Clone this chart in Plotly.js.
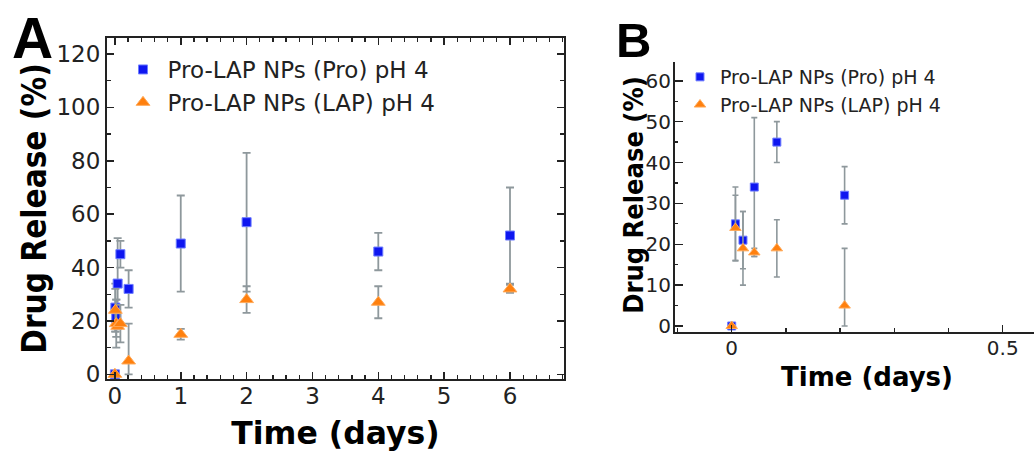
<!DOCTYPE html>
<html><head><meta charset="utf-8">
<script src="https://cdn.plot.ly/plotly-3.0.1.min.js"></script>
<style>html,body{margin:0;padding:0;background:#fff}#chart{width:1034px;height:451px}</style>
</head><body><div id="chart"></div>
<script>
const timeDays   = [0, 0.0069, 0.0208, 0.0417, 0.0833, 0.2083, 1, 2, 4, 6];
const proRelease = [0, 25, 21, 34, 45, 32, 49, 57, 46, 52];
const proErr     = [0, 9, 7, 17, 5, 7, 18, 26, 7, 18];
const lapRelease = [0, 24, 19, 18, 19, 5, 15, 28, 27, 32];
const lapErr     = [0, 8, 9, 1, 7, 14, 2, 5, 6, 1.5];
const lapErrMinus= [0, 8, 9, 1, 7, 5, 2, 5, 6, 1.5];
const seriesNames = ['Pro-LAP NPs (Pro) pH 4', 'Pro-LAP NPs (LAP) pH 4'];
const xTitle = 'Time (days)', yTitle = 'Drug Release (%)';

const W = 1034, H = 451;
const fx = p => p / W, fy = p => 1 - p / H;
const INK = '#222';
const BLUE = 'rgb(14,22,240)', ORANGE = 'rgb(255,128,14)';
const ERR = '#8e989c';
const SANS = 'DejaVu Sans, Verdana, sans-serif';
const COND = 'DejaVu Sans Condensed, DejaVu Sans, sans-serif';
const tickFont = s => ({family: SANS, size: s, color: INK});
const titleFont = (s, fam) => ({family: fam || SANS, size: s, color: '#000', weight: 'bold'});

function tracesA() {
  return [
    {x: timeDays, y: proRelease, type: 'scatter', mode: 'markers', name: seriesNames[0],
     xaxis: 'x', yaxis: 'y', legend: 'legend', cliponaxis: false,
     marker: {symbol: 'square', size: 9, color: BLUE, line: {color: 'rgb(110,125,255)', width: 1}},
     error_y: {type: 'data', array: proErr, visible: true, color: ERR, thickness: 1.8, width: 4}},
    {x: timeDays, y: lapRelease, type: 'scatter', mode: 'markers', name: seriesNames[1],
     xaxis: 'x', yaxis: 'y', legend: 'legend', cliponaxis: false,
     marker: {symbol: 'triangle-up', size: 12, color: ORANGE, line: {color: 'rgb(255,170,90)', width: 1}},
     error_y: {type: 'data', array: lapErr, arrayminus: lapErrMinus, symmetric: false, visible: true, color: ERR, thickness: 1.8, width: 4}}
  ];
}
// Panel B zooms on the first six time points
function tracesB() {
  const n = 6;
  return [
    {x: timeDays.slice(0, n), y: proRelease.slice(0, n), type: 'scatter', mode: 'markers', name: seriesNames[0],
     xaxis: 'x2', yaxis: 'y2', legend: 'legend2', cliponaxis: false,
     marker: {symbol: 'square', size: 8, color: BLUE, line: {color: 'rgb(110,125,255)', width: 1}},
     error_y: {type: 'data', array: proErr.slice(0, n), visible: true, color: ERR, thickness: 1.6, width: 3}},
    {x: timeDays.slice(0, n), y: lapRelease.slice(0, n), type: 'scatter', mode: 'markers', name: seriesNames[1],
     xaxis: 'x2', yaxis: 'y2', legend: 'legend2', cliponaxis: false,
     marker: {symbol: 'triangle-up', size: 10, color: ORANGE, line: {color: 'rgb(255,170,90)', width: 1}},
     error_y: {type: 'data', array: lapErr.slice(0, n), arrayminus: lapErrMinus.slice(0, n), symmetric: false, visible: true, color: ERR, thickness: 1.6, width: 3}}
  ];
}
const data = [...tracesA(), ...tracesB()];
const layout = {
  width: W, height: H, margin: {l: 0, r: 0, t: 0, b: 0},
  paper_bgcolor: '#fff', plot_bgcolor: '#fff', showlegend: true,
  xaxis: {
    domain: [fx(107), fx(564)], anchor: 'y', range: [-0.12, 6.82],
    tickmode: 'linear', tick0: 0, dtick: 1, ticks: 'inside', ticklen: 7, tickwidth: 1.5, tickcolor: INK,
    showline: true, linewidth: 2, linecolor: INK, mirror: 'ticks', showgrid: false, zeroline: false,
    tickfont: tickFont(23), ticklabelstandoff: -5,
    minor: {tick0: 0, dtick: 0.2, ticks: 'inside', ticklen: 4, tickwidth: 1.3, tickcolor: INK, showgrid: false},
    title: {text: xTitle, font: titleFont(31.5), standoff: 14}
  },
  yaxis: {
    domain: [fy(379), fy(38)], anchor: 'x', range: [-1.75, 126],
    tickmode: 'linear', tick0: 0, dtick: 20, ticks: 'inside', ticklen: 7, tickwidth: 1.5, tickcolor: INK,
    showline: true, linewidth: 2, linecolor: INK, mirror: 'ticks', showgrid: false, zeroline: false,
    tickfont: tickFont(23), ticklabelstandoff: 0,
    minor: {tick0: 0, dtick: 10, ticks: 'inside', ticklen: 4, tickwidth: 1.3, tickcolor: INK, showgrid: false},
    title: {text: yTitle, font: titleFont(33, COND), standoff: 0}
  },
  xaxis2: {
    domain: [fx(675), 1], anchor: 'y2', range: [-0.1046, 0.5577],
    tickmode: 'linear', tick0: 0, dtick: 0.5, ticks: 'inside', ticklen: 7, tickwidth: 1.5, tickcolor: INK,
    showline: true, linewidth: 2, linecolor: INK, showgrid: false, zeroline: false,
    tickfont: tickFont(20), ticklabelstandoff: -3,
    minor: {tick0: 0, dtick: 0.1, ticks: 'inside', ticklen: 4, tickwidth: 1.3, tickcolor: INK, showgrid: false}
  },
  xaxis3: {
    overlaying: 'x2', anchor: 'y2', side: 'top', range: [-0.1046, 0.5577],
    tickmode: 'linear', tick0: 0, dtick: 0.5, ticks: 'inside', ticklen: 3, tickwidth: 1.5, tickcolor: INK,
    showline: false, showgrid: false, zeroline: false, showticklabels: false
  },
  yaxis2: {
    domain: [fy(332), fy(62)], anchor: 'x2', range: [-1.47, 64.6],
    tickmode: 'linear', tick0: 0, dtick: 10, ticks: 'inside', ticklen: 8, tickwidth: 1.5, tickcolor: INK,
    showline: true, linewidth: 2, linecolor: INK, showgrid: false, zeroline: false,
    tickfont: tickFont(20), ticklabelstandoff: -2,
    minor: {tick0: 0, dtick: 5, ticks: 'inside', ticklen: 3, tickwidth: 1.3, tickcolor: INK, showgrid: false}
  },
  legend: {
    x: fx(118.5), y: fy(48), xanchor: 'left', yanchor: 'top', bgcolor: 'rgba(0,0,0,0)', itemwidth: 39,
    font: {family: SANS, size: 23, color: INK}, tracegroupgap: 0
  },
  legend2: {
    x: fx(680), y: fy(58), xanchor: 'left', yanchor: 'top', bgcolor: 'rgba(0,0,0,0)',
    font: {family: SANS, size: 19, color: INK}, tracegroupgap: 0
  },
  annotations: [
    {text: '<b>A</b>', xref: 'paper', yref: 'paper', x: fx(32), y: fy(38), xanchor: 'center', yanchor: 'middle',
     showarrow: false, font: {family: 'Liberation Sans, Arial, sans-serif', size: 57, color: '#000'}},
    {text: '<b>B</b>', xref: 'paper', yref: 'paper', x: fx(633), y: fy(40), xanchor: 'center', yanchor: 'middle',
     showarrow: false, font: {family: 'Liberation Sans, Arial, sans-serif', size: 49, color: '#000'}},
    {text: xTitle, xref: 'paper', yref: 'paper', x: fx(866.7), y: fy(377), xanchor: 'center', yanchor: 'middle',
     showarrow: false, font: titleFont(26)},
    {text: yTitle, xref: 'paper', yref: 'paper', x: fx(632.7), y: fy(195), xanchor: 'center', yanchor: 'middle',
     textangle: -90, showarrow: false, font: titleFont(27, COND)}
  ]
};
Plotly.newPlot('chart', data, layout, {displayModeBar: false, staticPlot: true});
</script>
</body></html>
